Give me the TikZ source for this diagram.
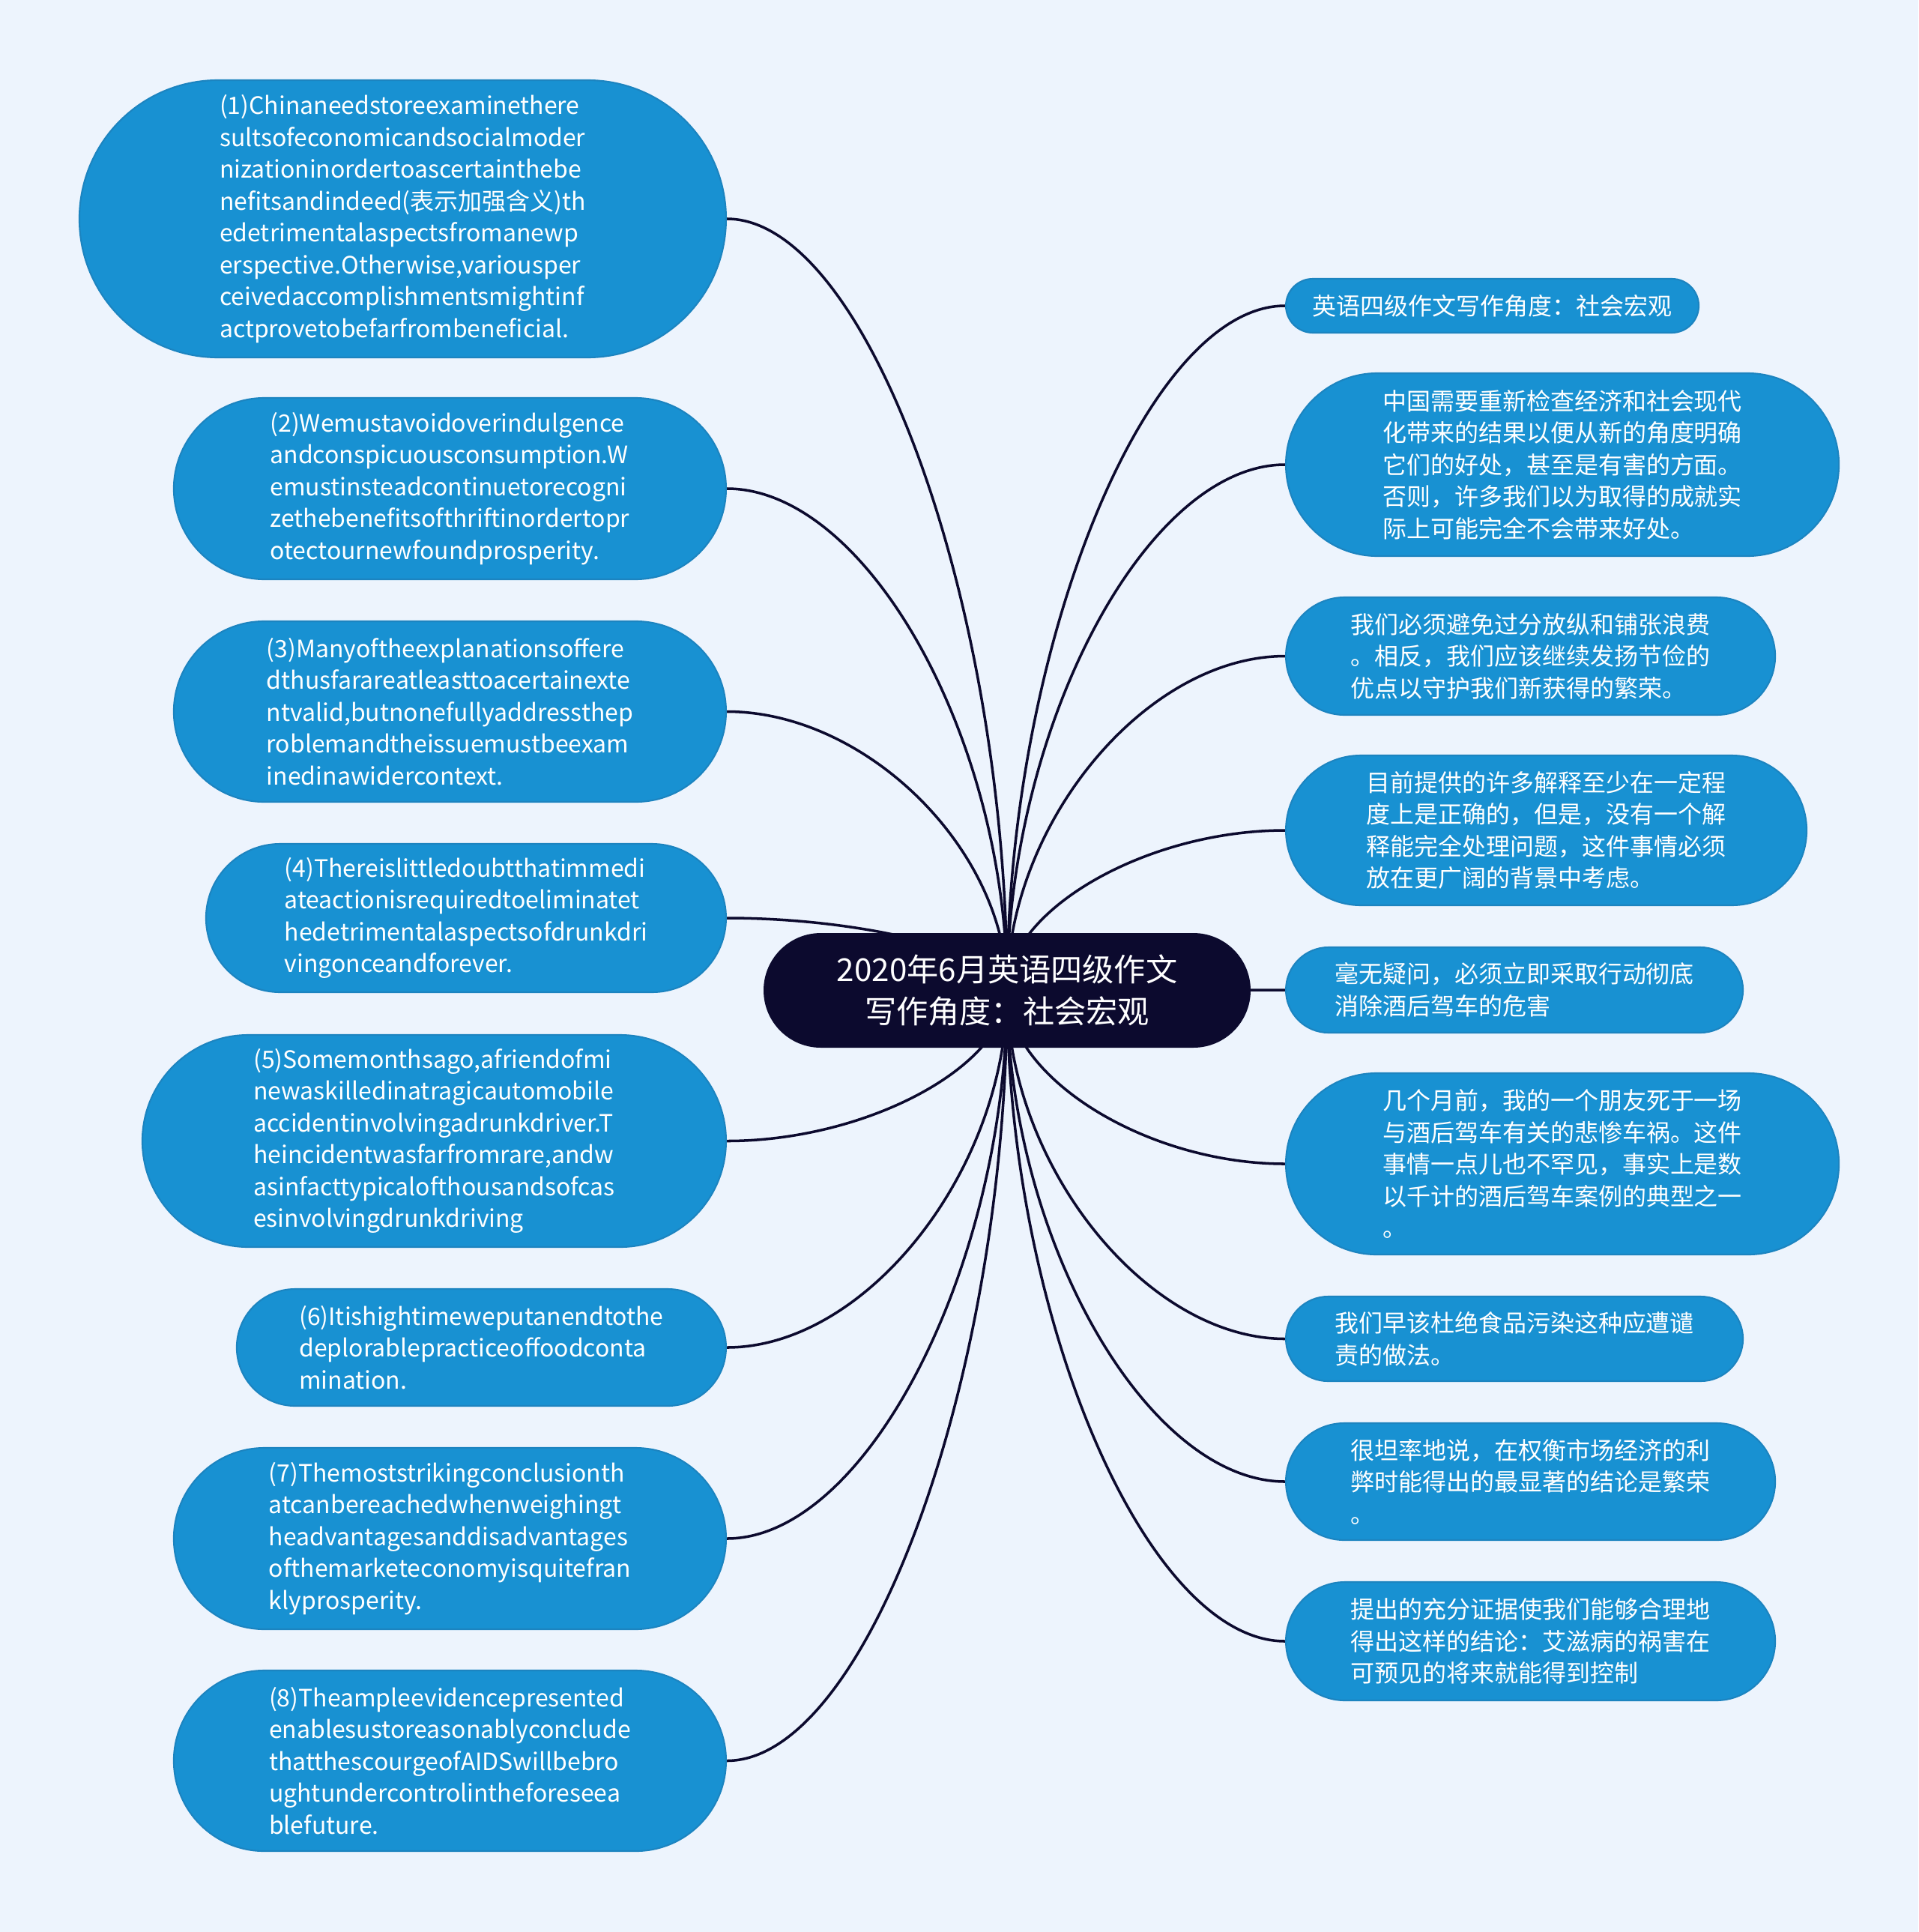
\documentclass[tikz,border=0pt]{standalone}
\usepackage{fontspec}
\setmainfont{Noto Sans CJK SC}
\usetikzlibrary{shapes.misc,positioning,calc}
\definecolor{pageBg}{RGB}{237,244,253}
\definecolor{rootFill}{RGB}{12,10,46}
\definecolor{leafFill}{RGB}{24,145,210}
\definecolor{leafLine}{RGB}{28,132,192}
\newcommand{\leafFont}{\fontsize{9.1}{12.1}\selectfont}
\pgfdeclarelayer{bg}
\pgfdeclarelayer{links}
\pgfsetlayers{bg,links,main}

\begin{document}
\begin{tikzpicture}[
	Edge/.style={rootFill,line width=1pt,
		to path={let \p1=(\tikztostart),\p2=(\tikztotarget) in
			.. controls (\x1,{0.5*(\y1+\y2)}) and ({0.5*(\x1+\x2)},\y2) .. (\tikztotarget)}},
	Root/.style={rounded rectangle,fill=rootFill,text=white,align=center,inner sep=0pt,
		minimum width=6.5cm,minimum height=1.53cm,font=\fontsize{12}{16}\selectfont},
	Leaf/.style={rounded rectangle,fill=leafFill,draw=leafLine,line width=0.6pt,text=white,
		align=left,inner sep=0pt,font=\leafFont},
	LeftLeaf/.style={Leaf,anchor=east},
	RightLeaf/.style={Leaf,anchor=west},
]
	\useasboundingbox (0,0) rectangle (25.6,-25.78);
	\begin{pgfonlayer}{bg}
		\fill[pageBg] (0,0) rectangle (25.6,-25.78);
	\end{pgfonlayer}

	% centre
	\node[Root] (root) at (13.44,-13.215) {2020年6月英语四级作文\\写作角度：社会宏观};

	% left side
	\node[LeftLeaf,minimum width=8.63cm,minimum height=3.70cm] (l1) at (9.70,-2.92)
		{(1)Chinaneedstoreexaminethere\\sultsofeconomicandsocialmoder\\nizationinordertoascertainthebe\\nefitsandindeed(表示加强含义)th\\edetrimentalaspectsfromanewp\\erspective.Otherwise,variousper\\ceivedaccomplishmentsmightinf\\actprovetobefarfrombeneficial.};
	\node[LeftLeaf,minimum width=7.37cm,minimum height=2.42cm] (l2) at (9.70,-6.52)
		{(2)Wemustavoidoverindulgence\\andconspicuousconsumption.W\\emustinsteadcontinuetorecogni\\zethebenefitsofthriftinordertopr\\otectournewfoundprosperity.};
	\node[LeftLeaf,minimum width=7.37cm,minimum height=2.41cm] (l3) at (9.70,-9.495)
		{(3)Manyoftheexplanationsoffere\\dthusfarareatleasttoacertainexte\\ntvalid,butnonefullyaddressthep\\roblemandtheissuemustbeexam\\inedinawidercontext.};
	\node[LeftLeaf,minimum width=6.94cm,minimum height=1.98cm] (l4) at (9.70,-12.25)
		{(4)Thereislittledoubtthatimmedi\\ateactionisrequiredtoeliminatet\\hedetrimentalaspectsofdrunkdri\\vingonceandforever.};
	\node[LeftLeaf,minimum width=7.79cm,minimum height=2.83cm] (l5) at (9.70,-15.225)
		{(5)Somemonthsago,afriendofmi\\newaskilledinatragicautomobile\\accidentinvolvingadrunkdriver.T\\heincidentwasfarfromrare,andw\\asinfacttypicalofthousandsofcas\\esinvolvingdrunkdriving};
	\node[LeftLeaf,minimum width=6.53cm,minimum height=1.56cm] (l6) at (9.70,-17.98)
		{(6)Itishightimeweputanendtothe\\deplorablepracticeoffoodconta\\mination.};
	\node[LeftLeaf,minimum width=7.37cm,minimum height=2.42cm] (l7) at (9.70,-20.53)
		{(7)Themoststrikingconclusionth\\atcanbereachedwhenweighingt\\headvantagesanddisadvantages\\ofthemarketeconomyisquitefran\\klyprosperity.};
	\node[LeftLeaf,minimum width=7.37cm,minimum height=2.41cm] (l8) at (9.70,-23.495)
		{(8)Theampleevidencepresented\\enablesustoreasonablyconclude\\thatthescourgeofAIDSwillbebro\\ughtundercontrolintheforeseea\\blefuture.};

	% right side
	\node[RightLeaf,minimum width=5.51cm,minimum height=0.72cm] (r1) at (17.15,-4.08)
		{英语四级作文写作角度：社会宏观};
	\node[RightLeaf,minimum width=7.38cm,minimum height=2.44cm] (r2) at (17.15,-6.20)
		{中国需要重新检查经济和社会现代\\化带来的结果以便从新的角度明确\\它们的好处，甚至是有害的方面。\\否则，许多我们以为取得的成就实\\际上可能完全不会带来好处。};
	\node[RightLeaf,minimum width=6.53cm,minimum height=1.57cm] (r3) at (17.15,-8.755)
		{我们必须避免过分放纵和铺张浪费\\。相反，我们应该继续发扬节俭的\\优点以守护我们新获得的繁荣。};
	\node[RightLeaf,minimum width=6.95cm,minimum height=2.00cm] (r4) at (17.15,-11.08)
		{目前提供的许多解释至少在一定程\\度上是正确的，但是，没有一个解\\释能完全处理问题，这件事情必须\\放在更广阔的背景中考虑。};
	\node[RightLeaf,minimum width=6.10cm,minimum height=1.14cm] (r5) at (17.15,-13.21)
		{毫无疑问，必须立即采取行动彻底\\消除酒后驾车的危害};
	\node[RightLeaf,minimum width=7.38cm,minimum height=2.42cm] (r6) at (17.15,-15.53)
		{几个月前，我的一个朋友死于一场\\与酒后驾车有关的悲惨车祸。这件\\事情一点儿也不罕见，事实上是数\\以千计的酒后驾车案例的典型之一\\。};
	\node[RightLeaf,minimum width=6.10cm,minimum height=1.13cm] (r7) at (17.15,-17.865)
		{我们早该杜绝食品污染这种应遭谴\\责的做法。};
	\node[RightLeaf,minimum width=6.53cm,minimum height=1.56cm] (r8) at (17.15,-19.77)
		{很坦率地说，在权衡市场经济的利\\弊时能得出的最显著的结论是繁荣\\。};
	\node[RightLeaf,minimum width=6.53cm,minimum height=1.58cm] (r9) at (17.15,-21.90)
		{提出的充分证据使我们能够合理地\\得出这样的结论：艾滋病的祸害在\\可预见的将来就能得到控制};

	\begin{pgfonlayer}{links}
		\path[Edge]
		(root.center) edge (l1.east)
		(root.center) edge (l2.east)
		(root.center) edge (l3.east)
		(root.center) edge (l4.east)
		(root.center) edge (l5.east)
		(root.center) edge (l6.east)
		(root.center) edge (l7.east)
		(root.center) edge (l8.east)
		(root.center) edge (r1.west)
		(root.center) edge (r2.west)
		(root.center) edge (r3.west)
		(root.center) edge (r4.west)
		(root.center) edge (r5.west)
		(root.center) edge (r6.west)
		(root.center) edge (r7.west)
		(root.center) edge (r8.west)
		(root.center) edge (r9.west)
		;
	\end{pgfonlayer}
\end{tikzpicture}
\end{document}
